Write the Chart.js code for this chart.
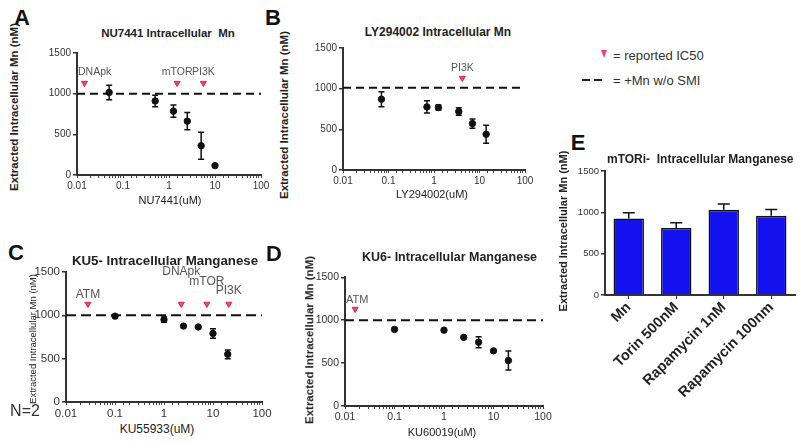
<!DOCTYPE html>
<html>
<head>
<meta charset="utf-8">
<script src="https://cdn.jsdelivr.net/npm/chart.js@4.4.1/dist/chart.umd.min.js"></script>
<style>
  body { margin: 0; width: 800px; height: 443px; overflow: hidden; position: relative; background: #fff;
         font-family: "Liberation Sans", Arial, sans-serif; color: #222; }
  canvas { position: absolute; }
  .t { position: absolute; white-space: pre; line-height: 1; transform: translate(-50%, -50%); }
  .l { position: absolute; white-space: pre; line-height: 1; transform: translateY(-50%); }
  .r { position: absolute; white-space: pre; line-height: 1; font-weight: bold; transform: translate(-50%, -50%) rotate(-90deg); }
  .b { font-weight: bold; }
  .letter { font-weight: bold; font-size: 22px; color: #111; }
</style>
</head>
<body>
<canvas id="cA" width="234" height="150" style="left:41px;top:45px"></canvas>
<canvas id="cB" width="232" height="150" style="left:307px;top:40px"></canvas>
<canvas id="cC" width="246" height="159" style="left:30px;top:263px"></canvas>
<canvas id="cD" width="248" height="157" style="left:309px;top:269px"></canvas>
<canvas id="cE" width="231" height="280" style="left:569px;top:163px"></canvas>

<!-- panel letters -->
<div class="t letter" style="left:22px;top:18px">A</div>
<div class="t letter" style="left:273px;top:18px">B</div>
<div class="t letter" style="left:16px;top:253px">C</div>
<div class="t letter" style="left:274px;top:254px">D</div>
<div class="t letter" style="left:578px;top:143px">E</div>

<!-- titles -->
<div class="t b" style="left:168px;top:34px;font-size:11.5px">NU7441 Intracellular  Mn</div>
<div class="t b" style="left:438px;top:32px;font-size:12px">LY294002 Intracellular Mn</div>
<div class="t b" style="left:165px;top:261px;font-size:13.3px">KU5- Intracellular Manganese</div>
<div class="l b" style="left:362px;top:257px;font-size:12.5px">KU6- Intracellular Manganese</div>
<div class="l b" style="left:607px;top:159px;font-size:12px">mTORi-  Intracellular Manganese</div>

<!-- axis titles -->
<div class="r" style="left:15px;top:107px;font-size:11.5px">Extracted Intracellular Mn (nM)</div>
<div class="r" style="left:285px;top:115px;font-size:11.5px">Extracted Intracellular Mn (nM)</div>
<div class="r" style="left:33px;top:339px;font-size:9.5px;font-weight:normal">Extracted Intracellular Mn (nM)</div>
<div class="r" style="left:310px;top:340px;font-size:11.5px">Extracted Intracellular Mn (nM)</div>
<div class="r" style="left:563px;top:231px;font-size:11px">Extracted Intracellular Mn (nM)</div>
<div class="t" style="left:170px;top:200px;font-size:11px">NU7441(uM)</div>
<div class="t" style="left:432px;top:194px;font-size:11px">LY294002(uM)</div>
<div class="t" style="left:157px;top:429px;font-size:12px">KU55933(uM)</div>
<div class="t" style="left:442px;top:432px;font-size:11px">KU60019(uM)</div>
<div class="t" style="left:25px;top:411px;font-size:16px;color:#333">N=2</div>

<!-- key -->
<div style="position:absolute;left:601px;top:50px;width:0;height:0;border-left:3px solid transparent;border-right:3px solid transparent;border-top:8px solid #e8456a"></div>
<div class="l" style="left:613px;top:55px;font-size:13px;color:#333">= reported IC50</div>
<div style="position:absolute;left:582px;top:79px;width:8px;height:2px;background:#222"></div>
<div style="position:absolute;left:594px;top:79px;width:8px;height:2px;background:#222"></div>
<div class="l" style="left:613px;top:80px;font-size:13px;color:#333">= +Mn w/o SMI</div>

<script>
// shared axes
const mnTicks = [0, 500, 1000, 1500];
const concDecades = [0.01, 0.1, 1, 10, 100];
const icMarkY = 1130;

// A: NU7441
const nuConc = [0.05, 0.5, 1.25, 2.5, 5, 10];
const nuMn = [1015, 910, 785, 662, 360, 115];
const nuSd = [90, 70, 75, 105, 165, 0];
const nuIcNames = ['DNApk', 'mTOR', 'PI3K'];
const nuIcConc = [0.0145, 1.5, 5.6];
const nuIcLabelY = [1265, 1265, 1265];
const nuBase = 1000;

// B: LY294002
const lyConc = [0.07, 0.7, 1.25, 3.5, 7, 14];
const lyMn = [870, 776, 768, 719, 571, 440];
const lySd = [92, 76, 30, 45, 57, 110];
const lyIcNames = ['PI3K'];
const lyIcConc = [4.2];
const lyIcLabelY = [1250];
const lyBase = 1010;

// C: KU55933
const ku5Conc = [0.1, 1, 2.5, 5, 10, 20];
const ku5Mn = [990, 950, 875, 865, 790, 550];
const ku5Sd = [10, 30, 0, 0, 55, 50];
const ku5IcNames = ['ATM', 'DNApk', 'mTOR', 'PI3K'];
const ku5IcConc = [0.028, 2.25, 7.5, 21];
const ku5IcLabelY = [1237, 1505, 1389, 1278];
const ku5Base = 1000;

// D: KU60019
const ku6Conc = [0.1, 1, 2.5, 5, 10, 20];
const ku6Mn = [893, 884, 800, 743, 643, 530];
const ku6Sd = [0, 0, 0, 63, 0, 110];
const ku6IcNames = ['ATM'];
const ku6IcConc = [0.016];
const ku6IcLabelY = [1230];
const ku6Base = 1000;

// E: mTOR inhibitors
const mtorCats = ['Mn', 'Torin 500nM', 'Rapamycin 1nM', 'Rapamycin 100nm'];
const mtorMn = [925, 810, 1030, 960];
const mtorSd = [70, 65, 70, 75];

// error bars drawn from the y scale
const errorBars = {
  id: 'errorBars',
  afterDatasetsDraw(chart) {
    const { ctx, scales: { y } } = chart;
    chart.data.datasets.forEach((ds, i) => {
      if (!ds.errors) return;
      const meta = chart.getDatasetMeta(i);
      const cap = ds.capWidth || 3;
      ctx.save();
      ctx.strokeStyle = '#111';
      ctx.lineWidth = 1.5;
      meta.data.forEach((el, j) => {
        const err = ds.errors[j];
        if (!err) return;
        const v = typeof ds.data[j] === 'object' ? ds.data[j].y : ds.data[j];
        const top = y.getPixelForValue(v + err);
        const bot = y.getPixelForValue(ds.upperOnly ? v : v - err);
        ctx.beginPath();
        ctx.moveTo(el.x, top); ctx.lineTo(el.x, bot);
        ctx.moveTo(el.x - cap, top); ctx.lineTo(el.x + cap, top);
        if (!ds.upperOnly) { ctx.moveTo(el.x - cap, bot); ctx.lineTo(el.x + cap, bot); }
        ctx.stroke();
      });
      ctx.restore();
    });
  }
};

// names over the IC50 arrows
const icLabels = {
  id: 'icLabels',
  afterDatasetsDraw(chart) {
    const { ctx, chartArea, scales: { x, y } } = chart;
    chart.data.datasets.forEach(ds => {
      if (!ds.names) return;
      ctx.save();
      ctx.font = ds.nameFont;
      ctx.fillStyle = '#555';
      ctx.textBaseline = 'middle';
      ctx.textAlign = 'left';
      ds.names.forEach((n, j) => {
        const w = ctx.measureText(n).width;
        const px = Math.max(x.getPixelForValue(ds.data[j].x) - w / 2, chartArea.left + 1);
        ctx.fillText(n, px, y.getPixelForValue(ds.nameY[j]));
      });
      ctx.restore();
    });
  }
};

Chart.register(errorBars, icLabels);

function yAxis(fontSize) {
  return {
    min: 0, max: 1500,
    afterBuildTicks: s => { s.ticks = mnTicks.map(v => ({ value: v })); },
    border: { color: '#333', width: 2 },
    grid: { drawOnChartArea: false, tickLength: 4, color: '#333', lineWidth: 1.5 },
    ticks: {
      color: '#333', padding: 2,
      font: { size: fontSize, family: 'Liberation Sans' },
      callback: v => String(v)
    },
    afterFit: s => { s.width = 36; }
  };
}

function doseChart(id, conc, mn, sd, icNames, icConc, icLabelY, base, opts) {
  new Chart(document.getElementById(id), {
    type: 'scatter',
    data: {
      datasets: [
        {
          type: 'line',
          data: [{ x: 0.01, y: base }, { x: 100, y: base }],
          borderColor: '#111', borderWidth: 2, borderDash: opts.dash,
          pointRadius: 0
        },
        {
          data: icConc.map(c => ({ x: c, y: icMarkY })),
          pointStyle: 'triangle', rotation: 180, pointRadius: 3.5,
          backgroundColor: '#ee4a6c', borderColor: '#d02a4c', borderWidth: 1,
          names: icNames, nameY: icLabelY, nameFont: opts.nameFont
        },
        {
          data: conc.map((c, i) => ({ x: c, y: mn[i] })),
          pointRadius: 3.2, backgroundColor: '#111', borderColor: '#111',
          errors: sd
        }
      ]
    },
    options: {
      responsive: false,
      animation: false,
      layout: { padding: { top: 8, right: 14, left: 0, bottom: 0 } },
      plugins: { legend: { display: false }, tooltip: { enabled: false } },
      scales: {
        x: {
          type: 'logarithmic', min: 0.01, max: 100,
          border: { color: '#333', width: 2 },
          grid: { drawOnChartArea: false, tickLength: 3, color: '#444', lineWidth: 1 },
          ticks: {
            autoSkip: false, maxRotation: 0, color: '#333', padding: 2,
            font: { size: opts.tickSize, family: 'Liberation Sans' },
            callback: v => {
              const d = concDecades.find(t => Math.abs(t - v) < t * 1e-6);
              return d === undefined ? '' : String(d);
            }
          },
          afterFit: s => { s.height = 20; }
        },
        y: yAxis(opts.tickSize)
      }
    }
  });
}

doseChart('cA', nuConc, nuMn, nuSd, nuIcNames, nuIcConc, nuIcLabelY, nuBase,
  { dash: [8, 5], tickSize: 10, nameFont: '10.5px "Liberation Sans"' });
doseChart('cB', lyConc, lyMn, lySd, lyIcNames, lyIcConc, lyIcLabelY, lyBase,
  { dash: [8, 5], tickSize: 10, nameFont: '10.5px "Liberation Sans"' });
doseChart('cC', ku5Conc, ku5Mn, ku5Sd, ku5IcNames, ku5IcConc, ku5IcLabelY, ku5Base,
  { dash: [10, 5], tickSize: 11.5, nameFont: '12px "Liberation Sans"' });
doseChart('cD', ku6Conc, ku6Mn, ku6Sd, ku6IcNames, ku6IcConc, ku6IcLabelY, ku6Base,
  { dash: [9, 5], tickSize: 10.5, nameFont: '11px "Liberation Sans"' });

new Chart(document.getElementById('cE'), {
  type: 'bar',
  data: {
    labels: mtorCats,
    datasets: [{
      data: mtorMn,
      errors: mtorSd, upperOnly: true, capWidth: 6,
      backgroundColor: '#1212ee', borderColor: '#111', borderWidth: 1.5,
      barPercentage: 0.64, categoryPercentage: 1
    }]
  },
  options: {
    responsive: false,
    animation: false,
    layout: { padding: { top: 8, right: 5, left: 0, bottom: 0 } },
    plugins: { legend: { display: false }, tooltip: { enabled: false } },
    scales: {
      x: {
        border: { color: '#333', width: 2 },
        grid: { drawOnChartArea: false, offset: false, tickLength: 4, color: '#333' },
        ticks: {
          minRotation: 45, maxRotation: 45, color: '#222', padding: 0,
          font: { size: 14.5, weight: 'bold', family: 'Liberation Sans' }
        },
        afterFit: s => { s.height = 148; }
      },
      y: yAxis(9.5)
    }
  }
});
</script>
</body>
</html>
